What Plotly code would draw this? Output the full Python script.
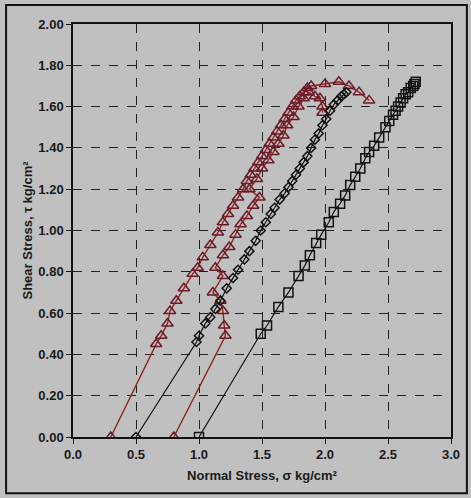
import plotly.graph_objects as go

# Series A (triangles, left branch + peak arc)
tri_a_x = [0.30, 0.66, 0.70, 0.75, 0.77, 0.82, 0.88, 0.95, 0.99, 1.03, 1.09, 1.15, 1.19, 1.23,
           1.27, 1.31, 1.35, 1.38, 1.41, 1.44, 1.47, 1.50, 1.53, 1.56, 1.59, 1.62, 1.65, 1.68,
           1.71, 1.74, 1.77, 1.80, 1.83, 1.86, 1.89, 2.00, 2.11, 2.19, 2.27, 2.35]
tri_a_y = [0.00, 0.45, 0.49, 0.55, 0.61, 0.66, 0.72, 0.79, 0.82, 0.87, 0.93, 0.99, 1.04, 1.08,
           1.12, 1.16, 1.20, 1.24, 1.27, 1.30, 1.33, 1.36, 1.39, 1.42, 1.45, 1.48, 1.51, 1.54,
           1.57, 1.60, 1.63, 1.65, 1.67, 1.69, 1.70, 1.71, 1.72, 1.70, 1.67, 1.63]

# Series B (triangles, jagged branch)
tri_b_x = [0.80, 1.21, 1.20, 1.19, 1.17, 1.11, 1.19, 1.13, 1.19, 1.24, 1.29, 1.33, 1.38, 1.43,
           1.48, 1.40, 1.46, 1.50, 1.55, 1.59, 1.63, 1.67, 1.70, 1.75, 1.79, 1.83, 1.87, 1.92,
           1.96, 1.98, 1.98]
tri_b_y = [0.00, 0.49, 0.54, 0.61, 0.66, 0.70, 0.78, 0.82, 0.88, 0.92, 0.98, 1.03, 1.07, 1.12,
           1.16, 1.20, 1.25, 1.30, 1.34, 1.38, 1.42, 1.46, 1.51, 1.55, 1.60, 1.64, 1.67, 1.65,
           1.64, 1.60, 1.57]

# Series C (diamonds)
dia_x = [0.50, 0.98, 1.00, 1.05, 1.09, 1.13, 1.17, 1.22, 1.27, 1.31, 1.36, 1.40, 1.45, 1.49,
         1.53, 1.57, 1.60, 1.64, 1.68, 1.71, 1.74, 1.77, 1.80, 1.83, 1.86, 1.89, 1.92, 1.95,
         1.98, 2.01, 2.04, 2.07, 2.10, 2.13, 2.15, 2.17]
dia_y = [0.00, 0.46, 0.49, 0.55, 0.58, 0.62, 0.66, 0.72, 0.77, 0.81, 0.86, 0.90, 0.95, 1.00,
         1.04, 1.08, 1.11, 1.15, 1.18, 1.21, 1.24, 1.27, 1.30, 1.33, 1.36, 1.40, 1.44, 1.47,
         1.51, 1.54, 1.58, 1.61, 1.63, 1.65, 1.66, 1.67]

# Series D (squares)
sq_x = [1.00, 1.49, 1.54, 1.63, 1.71, 1.79, 1.84, 1.88, 1.93, 1.97, 2.03, 2.07, 2.12, 2.16,
        2.20, 2.24, 2.28, 2.32, 2.35, 2.39, 2.43, 2.48, 2.51, 2.54, 2.56, 2.58, 2.60, 2.62,
        2.64, 2.66, 2.68, 2.70, 2.71, 2.72]
sq_y = [0.00, 0.50, 0.54, 0.63, 0.70, 0.78, 0.83, 0.88, 0.94, 0.98, 1.04, 1.09, 1.13, 1.17,
        1.22, 1.26, 1.30, 1.35, 1.38, 1.41, 1.45, 1.50, 1.53, 1.56, 1.58, 1.60, 1.62, 1.64,
        1.66, 1.67, 1.69, 1.70, 1.71, 1.72]

x_ticks = [0.0, 0.5, 1.0, 1.5, 2.0, 2.5, 3.0]
y_ticks = [0.0, 0.2, 0.4, 0.6, 0.8, 1.0, 1.2, 1.4, 1.6, 1.8, 2.0]

BG = "#c0c0c0"
RED_LINE = "#8a2a22"
RED_MARK = "#6e1a2a"
BLACK = "#111111"
FONT = "Liberation Sans, Arial, sans-serif"

fig = go.Figure()
fig.add_trace(go.Scatter(x=tri_a_x, y=tri_a_y, mode="lines+markers",
                         line=dict(color=RED_LINE, width=1.4),
                         marker=dict(symbol="triangle-up-open", size=10,
                                     color=RED_MARK, line=dict(width=1.5, color=RED_MARK))))
fig.add_trace(go.Scatter(x=tri_b_x, y=tri_b_y, mode="lines+markers",
                         line=dict(color=RED_LINE, width=1.4),
                         marker=dict(symbol="triangle-up-open", size=10,
                                     color=RED_MARK, line=dict(width=1.5, color=RED_MARK))))
fig.add_trace(go.Scatter(x=dia_x, y=dia_y, mode="lines+markers",
                         line=dict(color=BLACK, width=1.2),
                         marker=dict(symbol="diamond-open", size=7,
                                     color=BLACK, line=dict(width=1.5, color=BLACK))))
fig.add_trace(go.Scatter(x=sq_x, y=sq_y, mode="lines+markers",
                         line=dict(color=BLACK, width=1.2),
                         marker=dict(symbol="square-open", size=9,
                                     color=BLACK, line=dict(width=1.5, color=BLACK))))

axis_common = dict(showline=True, linecolor="#111111", linewidth=1.5, mirror=True,
                   ticks="outside", ticklen=5, tickcolor="#111111",
                   showgrid=True, gridcolor="#222222", gridwidth=1, griddash="dash",
                   zeroline=False, automargin=False,
                   tickfont=dict(family=FONT, size=13, color="#1a1a1a", weight="bold"))

fig.update_xaxes(range=[0, 3], tickvals=x_ticks, tickformat=".1f",
                 title=dict(text="Normal Stress, σ kg/cm²", standoff=10,
                            font=dict(family=FONT, size=13, color="#1a1a1a", weight="bold")),
                 **axis_common)
fig.update_yaxes(range=[0, 2], tickvals=y_ticks, tickformat=".2f",
                 title=dict(text="Shear Stress, τ kg/cm²", standoff=3,
                            font=dict(family=FONT, size=13, color="#1a1a1a", weight="bold")),
                 **axis_common)

fig.add_shape(type="rect", xref="paper", yref="paper",
              x0=-0.177, x1=1.042, y0=-0.136, y1=1.046,
              line=dict(color="#111111", width=2), layer="below")

fig.update_layout(width=471, height=498, showlegend=False,
                  paper_bgcolor=BG, plot_bgcolor=BG,
                  margin=dict(l=73, r=20, t=24, b=61, autoexpand=False))

fig.write_html("out.html", config={"displayModeBar": False},
               post_script="document.body.style.margin='0px';"
                           "document.body.style.backgroundColor='#c0c0c0';")
